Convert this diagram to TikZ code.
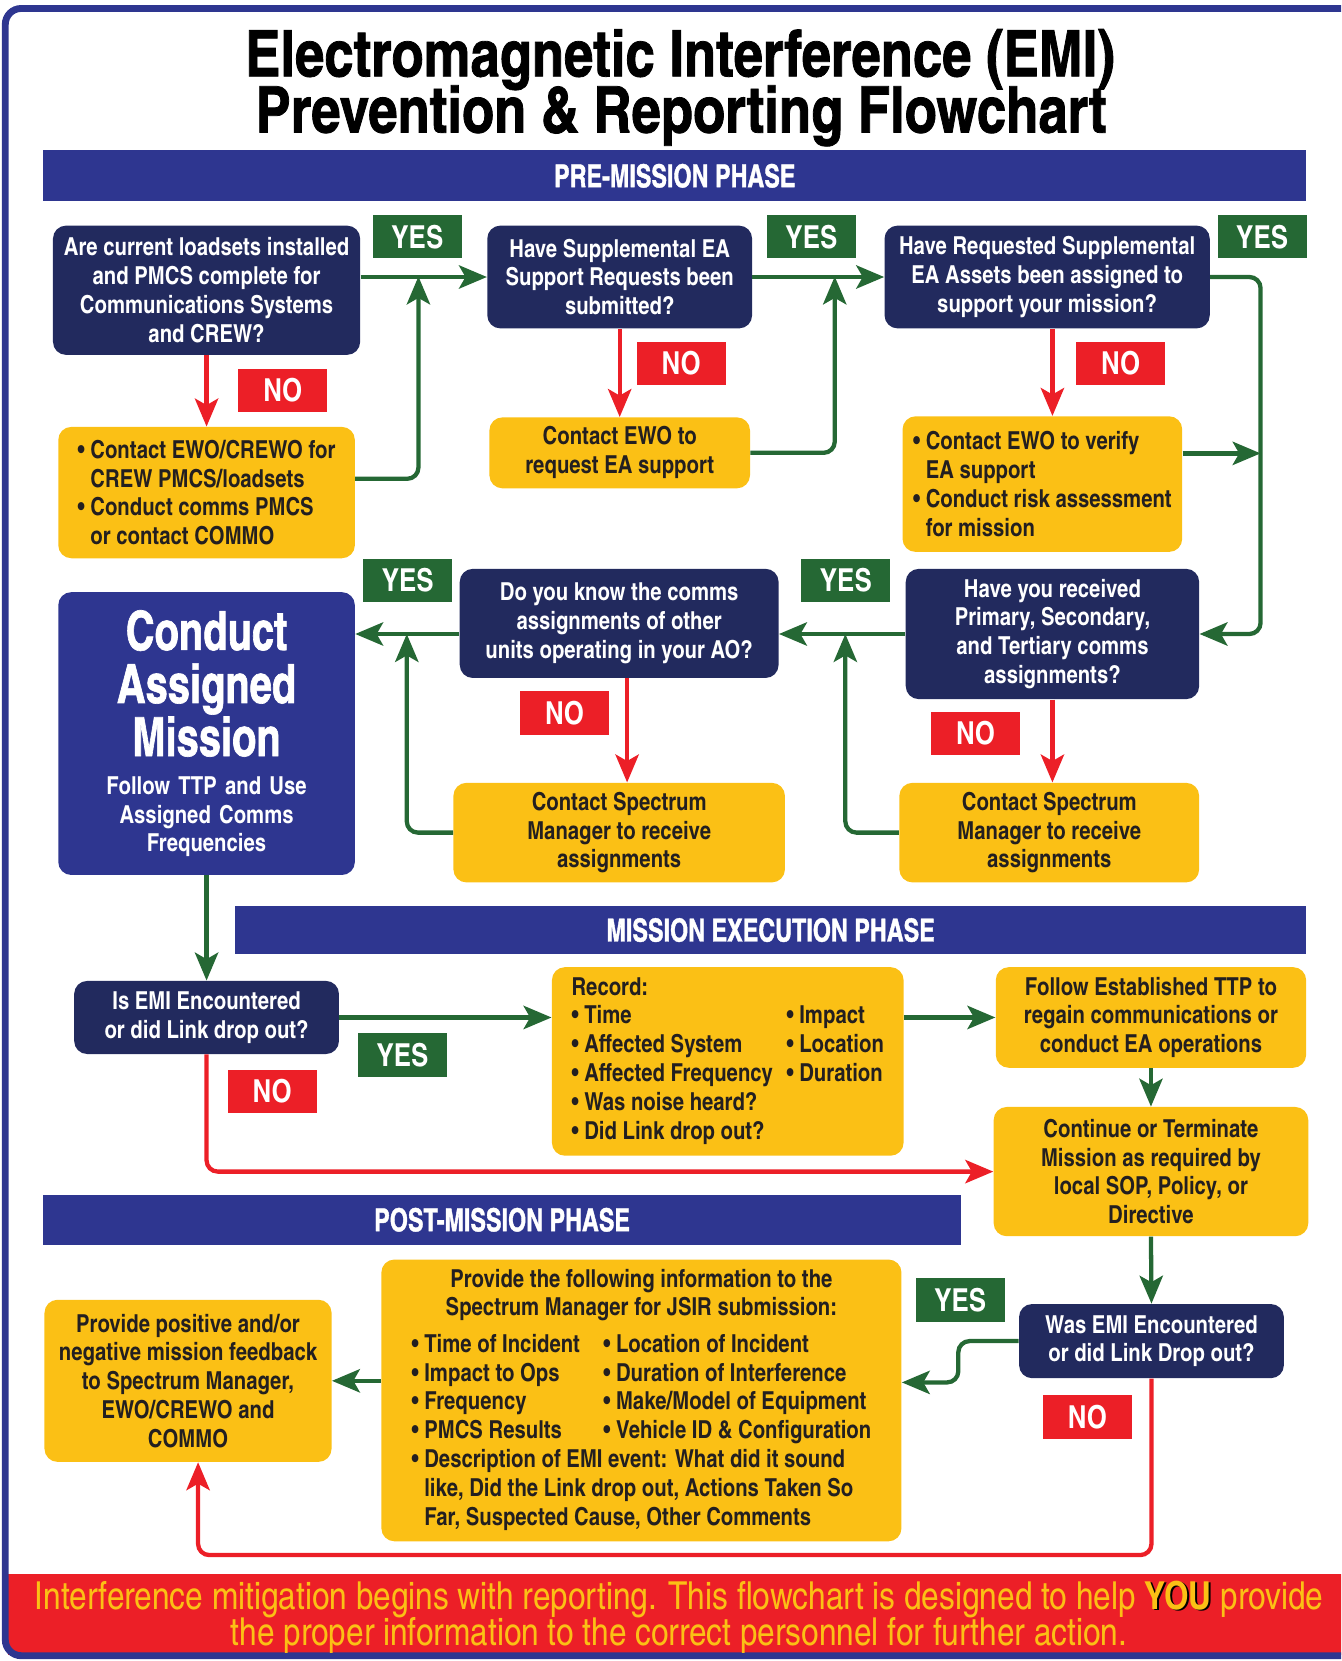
\documentclass[tikz,border=0pt]{standalone}
\usepackage{fontspec}
\setmainfont{texgyreheroscn}[Extension=.otf,UprightFont=*-regular,BoldFont=*-bold,ItalicFont=*-italic,BoldItalicFont=*-bolditalic]
\newfontfamily\heavyfont{texgyreheroscn}[Extension=.otf,UprightFont=*-bold,FakeBold=1.2]
\newfontfamily\narrowfont{texgyreheroscn}[Extension=.otf,UprightFont=*-bold,FakeBold=1.2,FakeStretch=0.9]
\usetikzlibrary{arrows.meta,positioning,calc}

\definecolor{emnavy}{HTML}{222A5E}
\definecolor{emblue}{HTML}{2E3690}
\definecolor{emyellow}{HTML}{FBC015}
\definecolor{emgreen}{HTML}{256834}
\definecolor{emred}{HTML}{EC1F27}
\definecolor{emtext}{HTML}{231F20}

\begin{document}
\begin{tikzpicture}[
    qbox/.style={fill=emnavy, rounded corners=7pt, text=white, align=center, inner sep=3pt, font=\bfseries\fontsize{13.3}{15.5}\selectfont},
    abox/.style={fill=emyellow, rounded corners=7pt, text=emtext, align=center, inner sep=3pt, font=\bfseries\fontsize{13.3}{15.5}\selectfont},
    yesbox/.style={fill=emgreen, text=white, minimum width=1.68cm, minimum height=0.82cm, inner sep=0pt, font=\bfseries\fontsize{17}{17}\selectfont},
    nobox/.style={yesbox, fill=emred},
    phase/.style={fill=emblue, text=white, inner sep=0pt, font=\narrowfont\fontsize{17}{17}\selectfont},
    garr/.style={-{Stealth[length=15pt, width=12.5pt, inset=3.5pt]}, line width=2.3pt, emgreen, rounded corners=6pt},
    rarr/.style={garr, emred},
]
\useasboundingbox (0,0) rectangle (25.32,-31.36);
\clip (0,0) rectangle (25.32,-31.36);

% Frame and footer
\fill[emred] (0.16,-29.72) rectangle (25.6,-31.24);
\draw[emblue, line width=0.13cm, rounded corners=0.3cm] (0.10,-0.16) rectangle (25.8,-31.26);
\node[anchor=base, text=emyellow, font=\fontsize{20.7}{21}\selectfont] (foot1) at (12.82,-30.38) {Interference mitigation begins with reporting. This flowchart is designed to help {\bfseries\rlap{\kern1pt\raisebox{-1pt}{\color{black}YOU}}YOU} provide};
\node[anchor=base, text=emyellow, font=\fontsize{20.7}{21}\selectfont] (foot2) at (12.82,-31.06) {the proper information to the correct personnel for further action.};

% Title
\node[anchor=base, font=\heavyfont\fontsize{34.5}{35}\selectfont] (title1) at (12.84,-1.44) {Electromagnetic Interference (EMI)};
\node[anchor=base, font=\heavyfont\fontsize{34.5}{35}\selectfont] (title2) at (12.86,-2.50) {Prevention \& Reporting Flowchart};

% Phase bars
\node[phase, minimum width=23.84cm, minimum height=0.96cm] (pre) at (12.74,-3.32) {PRE-MISSION PHASE};
\node[phase, minimum width=20.22cm, minimum height=0.92cm] (exec) at (14.55,-17.56) {MISSION EXECUTION PHASE};
\node[phase, minimum width=17.32cm, minimum height=0.94cm] (post) at (9.48,-23.03) {POST-MISSION PHASE};

% Pre-mission questions
\node[qbox, minimum width=5.8cm, minimum height=2.44cm] (q1) at (3.90,-5.48) {Are current loadsets installed\\and PMCS complete for\\Communications Systems\\and CREW?};
\node[qbox, minimum width=5.0cm, minimum height=1.94cm] (q2) at (11.70,-5.23) {Have Supplemental EA\\Support Requests been\\submitted?};
\node[qbox, minimum width=6.14cm, minimum height=1.94cm] (q3) at (19.77,-5.23) {Have Requested Supplemental\\EA Assets been assigned to\\support your mission?};
\node[yesbox] (y1) at (7.88,-4.47) {YES};
\node[yesbox] (y2) at (15.32,-4.47) {YES};
\node[yesbox] (y3) at (23.83,-4.47) {YES};
\node[nobox] (n1) at (5.34,-7.37) {NO};
\node[nobox] (n2) at (12.86,-6.86) {NO};
\node[nobox] (n3) at (21.16,-6.86) {NO};

% Pre-mission actions
\node[abox, align=left, minimum width=5.6cm, minimum height=2.48cm] (a1) at (3.90,-9.30) {\textbullet\ Contact EWO/CREWO for\\\phantom{\textbullet\ }CREW PMCS/loadsets\\\textbullet\ Conduct comms PMCS\\\phantom{\textbullet\ }or contact COMMO};
\node[abox, minimum width=4.92cm, minimum height=1.34cm] (a2) at (11.70,-8.55) {Contact EWO to\\request EA support};
\node[abox, align=left, minimum width=5.28cm, minimum height=2.56cm] (a3) at (19.68,-9.14) {\textbullet\ Contact EWO to verify\\\phantom{\textbullet\ }EA support\\\textbullet\ Conduct risk assessment\\\phantom{\textbullet\ }for mission};

% Comms assignments
\node[qbox, minimum width=5.54cm, minimum height=2.46cm] (q4) at (19.87,-11.97) {Have you received\\Primary, Secondary,\\and Tertiary comms\\assignments?};
\node[qbox, minimum width=6.02cm, minimum height=2.06cm] (q5) at (11.69,-11.77) {Do you know the comms\\assignments of other\\units operating in your AO?};
\node[yesbox] (y4) at (15.97,-10.96) {YES};
\node[yesbox] (y5) at (7.70,-10.96) {YES};
\node[nobox] (n4) at (18.42,-13.85) {NO};
\node[nobox] (n5) at (10.66,-13.46) {NO};
\node[abox, minimum width=5.66cm, minimum height=1.88cm] (a5) at (19.81,-15.72) {Contact Spectrum\\Manager to receive\\assignments};
\node[abox, minimum width=6.26cm, minimum height=1.88cm] (a4) at (11.69,-15.72) {Contact Spectrum\\Manager to receive\\assignments};

% Mission
\node[qbox, fill=emblue, text width=5.2cm, minimum width=5.6cm, minimum height=5.34cm] (mission) at (3.90,-13.85) {{\narrowfont\fontsize{29}{28.5}\selectfont Conduct\\Assigned\\Mission\par}\vspace{5pt}Follow TTP and Use\\Assigned Comms\\Frequencies};

% Mission execution
\node[qbox, minimum width=5.0cm, minimum height=1.38cm] (e1) at (3.90,-19.21) {Is EMI Encountered\\or did Link drop out?};
\node[yesbox] (y6) at (7.60,-19.92) {YES};
\node[nobox] (n6) at (5.14,-20.61) {NO};
\node[abox, minimum width=6.64cm, minimum height=3.56cm] (record) at (13.74,-20.04) {\begin{tabular}{@{}p{4.06cm}@{}l@{}}
Record: & \\
\textbullet\ Time & \textbullet\ Impact\\
\textbullet\ Affected System & \textbullet\ Location\\
\textbullet\ Affected Frequency & \textbullet\ Duration\\
\textbullet\ Was noise heard? & \\
\textbullet\ Did Link drop out? & \\
\end{tabular}};
\node[abox, minimum width=5.86cm, minimum height=1.90cm] (follow) at (21.73,-19.21) {Follow Established TTP to\\regain communications or\\conduct EA operations};
\node[abox, minimum width=5.94cm, minimum height=2.44cm] (cont) at (21.73,-22.12) {Continue or Terminate\\Mission as required by\\local SOP, Policy, or\\Directive};

% Post-mission
\node[qbox, minimum width=5.0cm, minimum height=1.40cm] (w) at (21.74,-25.32) {Was EMI Encountered\\or did Link Drop out?};
\node[yesbox] (y7) at (18.13,-24.54) {YES};
\node[nobox] (n7) at (20.53,-26.75) {NO};
\node[abox, minimum width=9.82cm, minimum height=5.32cm] (info) at (12.11,-26.44) {\begin{tabular}{@{}p{3.62cm}@{}l@{}}
\multicolumn{2}{@{}c@{}}{Provide the following information to the}\\
\multicolumn{2}{@{}c@{}}{Spectrum Manager for JSIR submission:}\\[4pt]
\textbullet\ Time of Incident & \textbullet\ Location of Incident\\
\textbullet\ Impact to Ops & \textbullet\ Duration of Interference\\
\textbullet\ Frequency & \textbullet\ Make/Model of Equipment\\
\textbullet\ PMCS Results & \textbullet\ Vehicle ID \& Configuration\\
\multicolumn{2}{@{}l@{}}{\textbullet\ Description of EMI event: What did it sound}\\
\multicolumn{2}{@{}l@{}}{\phantom{\textbullet\ }like, Did the Link drop out, Actions Taken So}\\
\multicolumn{2}{@{}l@{}}{\phantom{\textbullet\ }Far, Suspected Cause, Other Comments}\\
\end{tabular}};
\node[abox, minimum width=5.42cm, minimum height=3.06cm] (fb) at (3.55,-26.07) {Provide positive and/or\\negative mission feedback\\to Spectrum Manager,\\EWO/CREWO and\\COMMO};

% Arrows, pre-mission
\coordinate (j1) at (7.90,-5.22);
\coordinate (j2) at (15.76,-5.22);
\coordinate (j3) at (23.80,-8.56);
\draw[garr] (q2.west -| q1.east) -- (q2.west);
\draw[garr] ([yshift=0.26cm]a1.east) -| (j1);
\draw[garr] (a2.east) -| (j2);
\draw[garr] (q3.west -| q2.east) -- (q3.west);
\draw[garr] (q3.east) -| (j3 |- q4.east) -- (q4.east);
\draw[garr] (a3.east |- j3) -- (j3);
\draw[rarr] (q1.south) -- (q1.south |- a1.north);
\draw[rarr] (q2.south) -- (q2.south |- a2.north);
\draw[rarr] (q2.south -| q3.south) ++(0.1,0) coordinate (q3s) -- (q3s |- a3.north);

% Arrows, comms assignments
\coordinate (j4) at (15.96,-11.97);
\coordinate (j5) at (7.68,-11.97);
\draw[garr] (q4.west) -- (q4.west -| q5.east);
\draw[garr] (a5.west) -| (j4);
\draw[rarr] (q4.south) -- (q4.south |- a5.north);
\draw[garr] (q5.west |- q4.west) -- (mission.east |- q4.west);
\draw[garr] (a4.west) -| (j5);
\draw[rarr] ([xshift=0.15cm]q5.south) -- ([xshift=0.15cm]q5.south |- a4.north);

% Arrows, execution
\draw[garr] (mission.south) -- (e1.north);
\draw[garr] (e1.east) -- (e1.east -| record.west);
\draw[garr] (follow.west -| record.east) -- (follow.west);
\draw[garr] (follow.south) -- (cont.north);
\draw[rarr] (e1.south) |- (cont.west);

% Arrows, post-mission
\coordinate (j6) at (3.74,-29.36);
\draw[garr] (cont.south) -- (w.north);
\draw[garr] (w.west) -- ++(-1.14,0) |- ([yshift=0.34cm]info.east);
\draw[garr] (fb.east -| info.west) -- (fb.east);
\draw[rarr] (w.south) |- (j6) -- ([xshift=0.19cm]fb.south);
\end{tikzpicture}
\end{document}
